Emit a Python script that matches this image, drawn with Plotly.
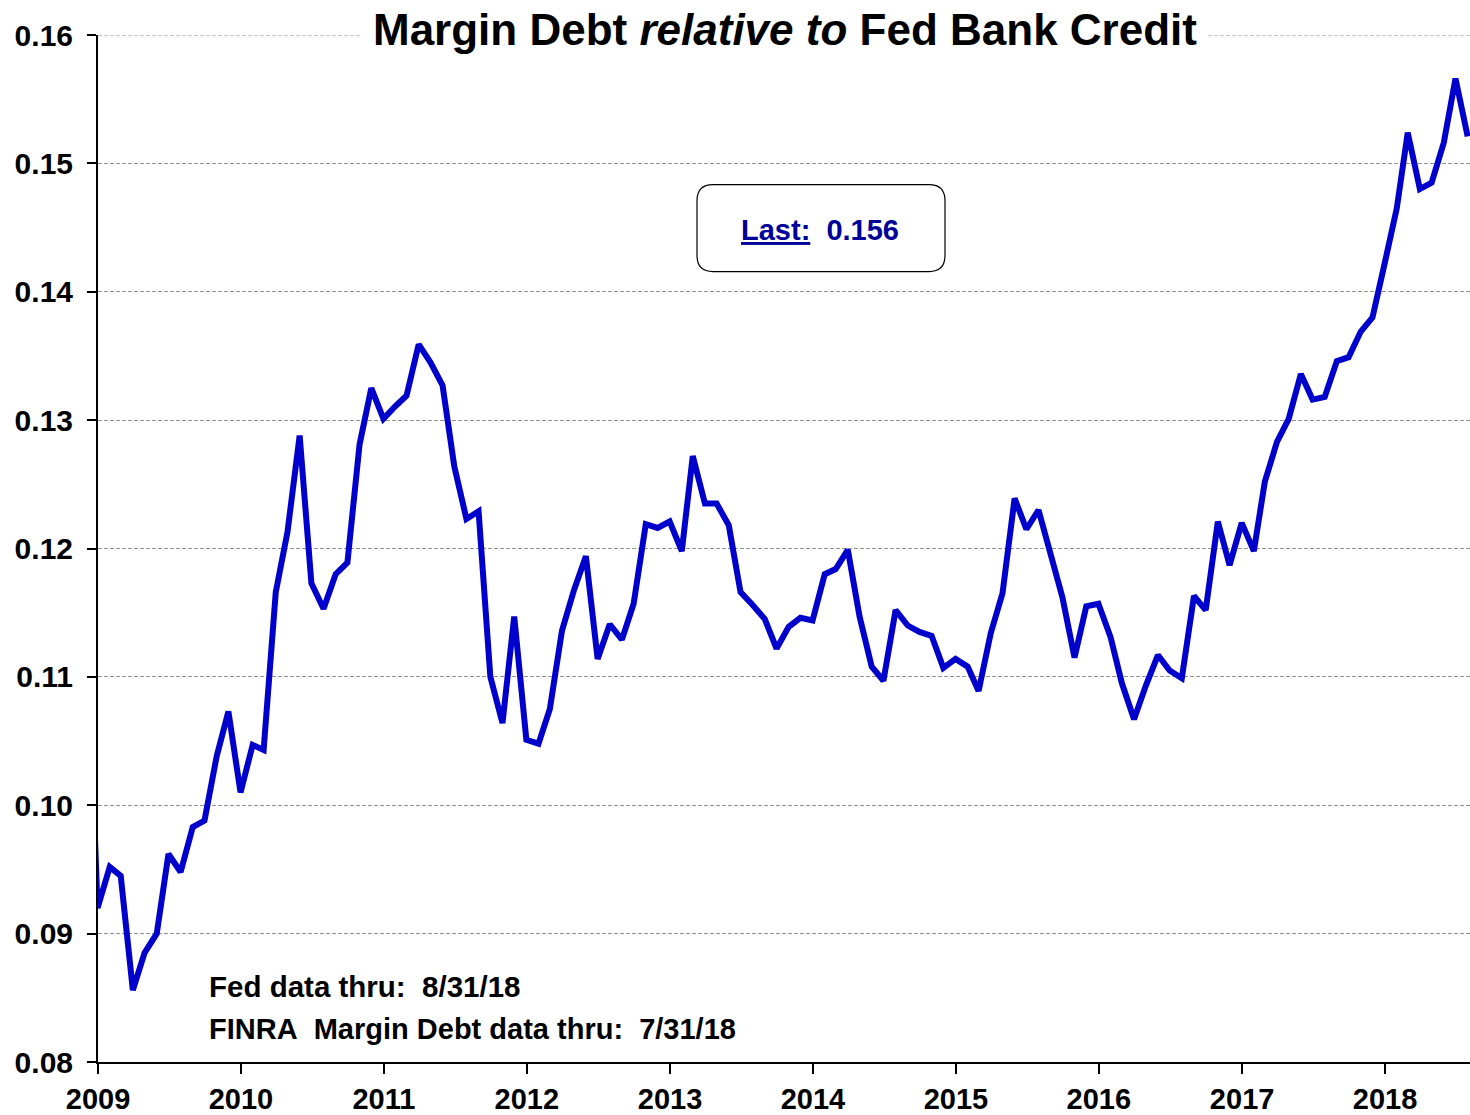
import pandas as pd
import plotly.graph_objects as go

# Margin debt / Fed bank credit, month-end values
ratio_2008 = [0.1170, 0.0920]  # Nov, Dec
ratio_2009 = [0.0952, 0.0945, 0.0856, 0.0885, 0.0900, 0.0962, 0.0948, 0.0983, 0.0988, 0.1038, 0.1073, 0.1010]
ratio_2010 = [0.1047, 0.1043, 0.1166, 0.1213, 0.1288, 0.1173, 0.1153, 0.1180, 0.1189, 0.1281, 0.1325, 0.1301]
ratio_2011 = [0.1311, 0.1319, 0.1359, 0.1345, 0.1327, 0.1264, 0.1223, 0.1229, 0.1100, 0.1064, 0.1147, 0.1051]
ratio_2012 = [0.1048, 0.1075, 0.1136, 0.1167, 0.1194, 0.1114, 0.1141, 0.1129, 0.1157, 0.1219, 0.1216, 0.1221]
ratio_2013 = [0.1198, 0.1272, 0.1235, 0.1235, 0.1218, 0.1166, 0.1156, 0.1145, 0.1122, 0.1139, 0.1146, 0.1144]
ratio_2014 = [0.1180, 0.1184, 0.1199, 0.1147, 0.1108, 0.1097, 0.1152, 0.1140, 0.1135, 0.1132, 0.1107, 0.1114]
ratio_2015 = [0.1108, 0.1089, 0.1134, 0.1165, 0.1239, 0.1215, 0.1230, 0.1197, 0.1162, 0.1115, 0.1155, 0.1157]
ratio_2016 = [0.1131, 0.1095, 0.1067, 0.1093, 0.1117, 0.1105, 0.1099, 0.1163, 0.1152, 0.1221, 0.1187, 0.1220]
ratio_2017 = [0.1198, 0.1252, 0.1283, 0.1301, 0.1336, 0.1316, 0.1318, 0.1346, 0.1349, 0.1369, 0.1380, 0.1422]
ratio_2018 = [0.1465, 0.1524, 0.1480, 0.1485, 0.1516, 0.1566, 0.1521]

start_month_end = "2008-11-30"
x_range = ["2009-01-01", "2018-08-06"]
y_ticks = [0.08, 0.09, 0.10, 0.11, 0.12, 0.13, 0.14, 0.15, 0.16]
y_ticktext = ["0.08", "0.09", "0.10", "0.11", "0.12", "0.13", "0.14", "0.15", "0.16"]

title_text = "Margin Debt <i>relative to</i> Fed Bank Credit"
last_label = "Last:"
last_value = "0.156"
note_fed = "Fed data thru:\u00a0\u00a08/31/18"
note_finra = "FINRA\u00a0\u00a0Margin Debt data thru:\u00a0\u00a07/31/18"

values = (ratio_2008 + ratio_2009 + ratio_2010 + ratio_2011 + ratio_2012 + ratio_2013
          + ratio_2014 + ratio_2015 + ratio_2016 + ratio_2017 + ratio_2018)
dates = pd.date_range(start_month_end, periods=len(values), freq=pd.offsets.MonthEnd())

FONT = "Liberation Sans, Arial, sans-serif"
GRID = "#939393"
DASH = "4px,2px"

fig = go.Figure()
fig.add_trace(go.Scatter(
    x=dates, y=values, mode="lines",
    line=dict(color="#0000CC", width=6),
    hoverinfo="skip", showlegend=False,
))

W, H = 1470, 1115
ml, mr, mt, mb = 98, 0, 35, 51
pw, ph = W - ml - mr, H - mt - mb

def px_x(x):
    return (x - ml) / pw

def px_y(y):
    return (H - mb - y) / ph

# rounded box for "Last"
bx0, bx1, by0, by1, r = 697, 945, 185, 272, 16
rx, ry = r / pw, r / ph
X0, X1, Yt, Yb = px_x(bx0), px_x(bx1), px_y(by0), px_y(by1)
path = (f"M {X0+rx},{Yt} L {X1-rx},{Yt} Q {X1},{Yt} {X1},{Yt-ry} "
        f"L {X1},{Yb+ry} Q {X1},{Yb} {X1-rx},{Yb} L {X0+rx},{Yb} "
        f"Q {X0},{Yb} {X0},{Yb+ry} L {X0},{Yt-ry} Q {X0},{Yt} {X0+rx},{Yt} Z")

fig.update_layout(
    width=W, height=H,
    margin=dict(l=ml, r=mr, t=mt, b=mb),
    paper_bgcolor="white", plot_bgcolor="white",
    font=dict(family=FONT, color="black"),
    shapes=[
        # top gridline at the upper edge of the range
        dict(type="line", xref="paper", yref="y", x0=0, x1=1, y0=y_ticks[-1], y1=y_ticks[-1],
             line=dict(color=GRID, width=1, dash=DASH), layer="below"),
        dict(type="path", xref="paper", yref="paper", path=path,
             line=dict(color="black", width=1.2), fillcolor="white", layer="above"),
    ],
    annotations=[
        dict(xref="paper", yref="paper", x=px_x(785), y=px_y(29), text=f"<b>{title_text}</b>",
             showarrow=False, xanchor="center", yanchor="middle", bgcolor="white",
             borderpad=10, font=dict(family=FONT, size=44, color="black")),
        dict(xref="paper", yref="paper", x=px_x(820), y=px_y(230),
             text=f"<b><span style='text-decoration:underline'>{last_label}</span>\u00a0\u00a0{last_value}</b>",
             showarrow=False, xanchor="center", yanchor="middle",
             font=dict(family=FONT, size=29, color="#000099")),
        dict(xref="paper", yref="paper", x=px_x(207), y=px_y(988), text=f"<b>{note_fed}</b>",
             showarrow=False, xanchor="left", yanchor="middle",
             font=dict(family=FONT, size=29.5, color="black")),
        dict(xref="paper", yref="paper", x=px_x(207), y=px_y(1031), text=f"<b>{note_finra}</b>",
             showarrow=False, xanchor="left", yanchor="middle",
             font=dict(family=FONT, size=29, color="black")),
    ],
)

fig.update_xaxes(
    type="date", range=x_range, dtick="M12", tick0="2009-01-01", tickformat="%Y",
    showgrid=False, showline=True, linecolor="black", linewidth=2,
    ticks="outside", ticklen=10, tickwidth=1.5, tickcolor="black",
    tickfont=dict(family=FONT, size=29, color="black", weight="bold"),
    zeroline=False, fixedrange=True,
)
fig.update_yaxes(
    range=[0.08, 0.16], tickvals=y_ticks, ticktext=y_ticktext,
    showgrid=True, gridcolor=GRID, gridwidth=1, griddash=DASH,
    showline=True, linecolor="black", linewidth=2,
    ticks="outside", ticklen=9, tickwidth=1.5, tickcolor="black",
    ticklabelstandoff=8,
    tickfont=dict(family=FONT, size=30, color="black", weight="bold"),
    zeroline=False, fixedrange=True,
)

fig.write_html("out.html", config={"displayModeBar": False})
